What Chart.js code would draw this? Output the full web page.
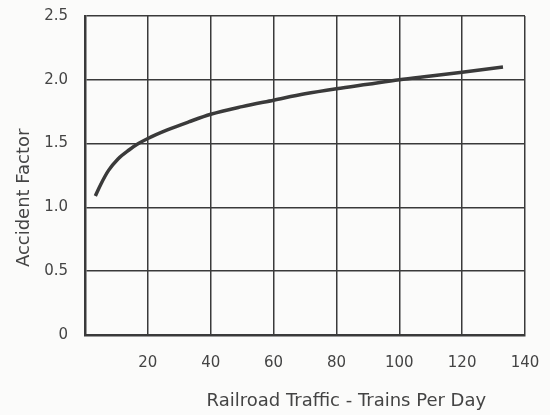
<!DOCTYPE html>
<html>
<head>
<meta charset="utf-8">
<script src="https://cdn.jsdelivr.net/npm/chart.js@4/dist/chart.umd.min.js"></script>
<style>
  html, body { margin: 0; padding: 0; background: #fbfbfa; }
  #wrap { width: 550px; height: 415px; }
</style>
</head>
<body>
<div id="wrap"><canvas id="chart" width="550" height="415"></canvas></div>
<script>
// values
const trainsPerDay = [3.3, 5, 7.5, 10.5, 14, 17, 20, 26, 33, 40, 50, 60, 70, 80, 90, 100, 110, 120, 133];
const accidentFactor = [1.09, 1.18, 1.29, 1.38, 1.45, 1.50, 1.54, 1.605, 1.67, 1.73, 1.79, 1.84, 1.89, 1.93, 1.965, 2.00, 2.03, 2.06, 2.10];
const xTicks = [0, 20, 40, 60, 80, 100, 120, 140];
const yTicks = [0, 0.5, 1.0, 1.5, 2.0, 2.5];
const xTitle = 'Railroad Traffic - Trains Per Day';
const yTitle = 'Accident Factor';

const ink = '#3a3a3a';
const textCol = '#444';
const titleFont = '18px "DejaVu Sans"';

const points = trainsPerDay.map((x, i) => ({ x, y: accidentFactor[i] }));

// axis titles sit off-centre in the original, so draw them by hand
const axisTitles = {
  id: 'axisTitles',
  afterDraw(chart) {
    const { ctx, chartArea: a } = chart;
    ctx.save();
    ctx.font = titleFont;
    ctx.fillStyle = textCol;
    ctx.textAlign = 'center';
    ctx.textBaseline = 'middle';
    ctx.fillText(xTitle, a.left + (a.right - a.left) * 0.594, a.bottom + 66);
    ctx.translate(24, a.top + (a.bottom - a.top) * 0.57);
    ctx.rotate(-Math.PI / 2);
    ctx.fillText(yTitle, 0, 0);
    ctx.restore();
  }
};

// let tick labels hang outside the plot instead of shrinking it
const noLabelPadding = s => {
  s.paddingTop = 0;
  s.paddingBottom = 0;
  s.paddingLeft = 0;
  s.paddingRight = 0;
};

window.onload = () => {
  const ctx = document.getElementById('chart').getContext('2d');
  new Chart(ctx, {
    type: 'line',
    data: {
      datasets: [{
        data: points,
        borderColor: ink,
        borderWidth: 3.5,
        pointRadius: 0,
        fill: false,
        cubicInterpolationMode: 'monotone'
      }]
    },
    options: {
      responsive: false,
      animation: false,
      layout: { padding: { left: 0, right: 25, top: 16, bottom: 0 } },
      plugins: { legend: { display: false }, tooltip: { enabled: false } },
      scales: {
        x: {
          type: 'linear',
          min: xTicks[0],
          max: xTicks[xTicks.length - 1],
          afterBuildTicks: s => { s.ticks = xTicks.map(v => ({ value: v })); },
          afterFit: s => { s.height = 80; noLabelPadding(s); },
          grid: { color: ink, lineWidth: 1.5, drawTicks: false },
          border: { color: ink, width: 2.5 },
          ticks: {
            padding: 19,
            color: textCol,
            font: { family: 'DejaVu Sans', size: 15 },
            callback: v => (v === 0 ? '' : String(v))
          }
        },
        y: {
          min: yTicks[0],
          max: yTicks[yTicks.length - 1],
          afterBuildTicks: s => { s.ticks = yTicks.map(v => ({ value: v })); },
          afterFit: s => { s.width = 85; noLabelPadding(s); },
          grid: { color: ink, lineWidth: 1.5, drawTicks: false },
          border: { color: ink, width: 2.5 },
          ticks: {
            padding: 17,
            color: textCol,
            font: { family: 'DejaVu Sans', size: 15 },
            callback: v => (v === 0 ? '0' : v.toFixed(1))
          }
        }
      }
    },
    plugins: [axisTitles]
  });
};
</script>
</body>
</html>
